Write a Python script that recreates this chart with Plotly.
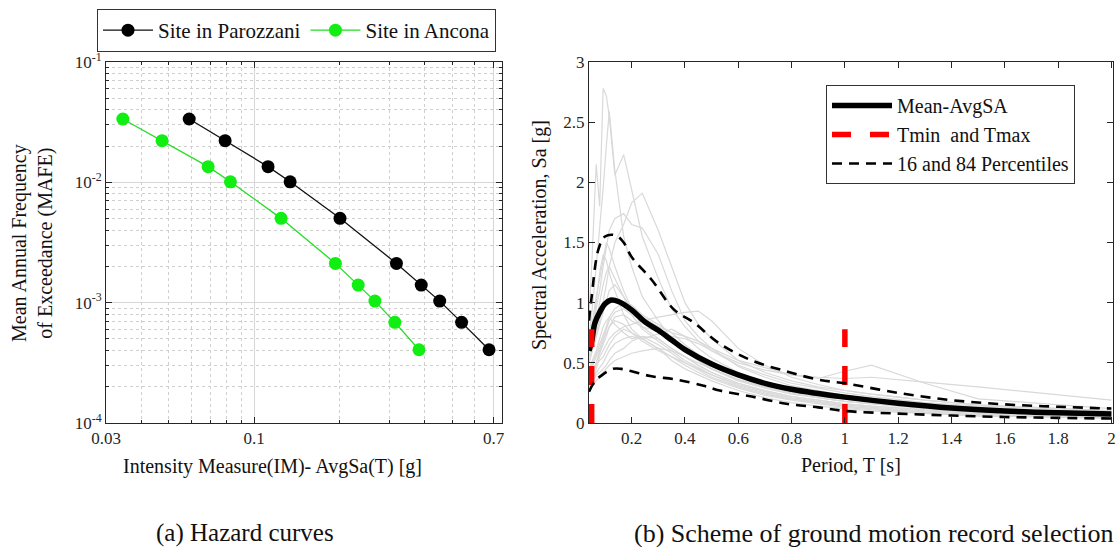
import plotly.graph_objects as go

# ---------------- (a) hazard curves ----------------
im_parozzani = [0.059, 0.079, 0.112, 0.134, 0.201, 0.318, 0.389, 0.452, 0.540, 0.675]
im_ancona = [0.0344, 0.0473, 0.0688, 0.0825, 0.1245, 0.1936, 0.233, 0.267, 0.314, 0.382]
mafe = [0.0336, 0.0222, 0.0135, 0.0101, 0.00502, 0.00212, 0.0014, 0.00103, 0.000686, 0.000406]

# ---------------- (b) spectra ----------------
period_grid = [0.04, 0.05, 0.067, 0.08, 0.093, 0.105, 0.116, 0.137, 0.17, 0.2, 0.24, 0.3, 0.35,
               0.4, 0.45, 0.5, 0.6, 0.7, 0.8, 0.9, 1.0, 1.1, 1.3, 1.5, 2.0]
rec_01 = [0.90, 1.30, 2.15, 1.80, 2.78, 2.72, 2.55, 2.06, 2.23, 1.95, 1.55, 1.20, 0.95, 0.80, 0.68, 0.60, 0.48, 0.40, 0.33, 0.29, 0.25, 0.22, 0.17, 0.14, 0.10]
rec_02 = [0.70, 0.90, 1.30, 1.60, 1.95, 2.30, 2.59, 2.10, 1.55, 1.30, 1.05, 0.85, 0.70, 0.60, 0.52, 0.45, 0.36, 0.30, 0.26, 0.22, 0.20, 0.18, 0.14, 0.11, 0.08]
rec_03 = [0.50, 0.60, 0.75, 0.85, 1.00, 1.15, 1.30, 1.50, 1.65, 1.83, 1.91, 1.60, 1.30, 1.00, 0.82, 0.70, 0.52, 0.42, 0.35, 0.30, 0.27, 0.24, 0.19, 0.15, 0.10]
rec_04 = [0.60, 0.70, 0.95, 1.10, 1.30, 1.45, 1.60, 1.70, 1.74, 1.65, 1.62, 1.40, 1.10, 0.85, 0.72, 0.62, 0.47, 0.38, 0.31, 0.27, 0.23, 0.20, 0.16, 0.13, 0.09]
rec_05 = [0.40, 0.45, 0.55, 0.62, 0.70, 0.78, 0.85, 0.92, 0.95, 0.90, 0.85, 0.80, 0.75, 0.72, 0.68, 0.62, 0.52, 0.46, 0.40, 0.37, 0.43, 0.48, 0.33, 0.20, 0.12]
rec_06 = [0.35, 0.40, 0.50, 0.58, 0.65, 0.72, 0.80, 0.88, 0.90, 0.85, 0.80, 0.76, 0.72, 0.70, 0.66, 0.60, 0.50, 0.44, 0.40, 0.38, 0.37, 0.38, 0.34, 0.30, 0.19]
rec_07 = [0.30, 0.35, 0.45, 0.55, 0.60, 0.65, 0.70, 0.75, 0.80, 0.82, 0.85, 0.88, 0.90, 0.92, 0.93, 0.85, 0.62, 0.48, 0.38, 0.32, 0.27, 0.24, 0.19, 0.15, 0.10]
rec_08 = [0.55, 0.65, 0.85, 1.00, 1.15, 1.25, 1.30, 1.20, 1.05, 0.95, 0.88, 0.80, 0.70, 0.60, 0.52, 0.45, 0.35, 0.29, 0.24, 0.21, 0.18, 0.16, 0.13, 0.10, 0.07]
rec_09 = [0.45, 0.50, 0.60, 0.70, 0.80, 0.85, 0.88, 0.82, 0.75, 0.70, 0.72, 0.70, 0.62, 0.55, 0.48, 0.42, 0.33, 0.27, 0.22, 0.19, 0.16, 0.14, 0.11, 0.09, 0.06]
rec_10 = [0.35, 0.40, 0.48, 0.52, 0.55, 0.60, 0.65, 0.72, 0.78, 0.75, 0.68, 0.60, 0.55, 0.50, 0.45, 0.40, 0.32, 0.26, 0.21, 0.18, 0.15, 0.13, 0.10, 0.08, 0.05]
rec_11 = [0.65, 0.80, 1.05, 1.20, 1.35, 1.50, 1.45, 1.30, 1.10, 0.95, 0.80, 0.70, 0.62, 0.55, 0.48, 0.42, 0.33, 0.27, 0.22, 0.19, 0.16, 0.14, 0.11, 0.09, 0.06]
rec_12 = [0.30, 0.33, 0.40, 0.42, 0.45, 0.48, 0.52, 0.58, 0.62, 0.68, 0.72, 0.65, 0.58, 0.50, 0.44, 0.38, 0.30, 0.24, 0.20, 0.17, 0.14, 0.12, 0.09, 0.07, 0.05]
rec_13 = [0.50, 0.58, 0.70, 0.80, 0.90, 1.00, 1.10, 1.15, 1.05, 0.90, 0.78, 0.68, 0.60, 0.52, 0.46, 0.40, 0.31, 0.25, 0.20, 0.17, 0.14, 0.12, 0.09, 0.07, 0.05]
rec_14 = [0.28, 0.30, 0.35, 0.38, 0.42, 0.45, 0.48, 0.52, 0.55, 0.58, 0.60, 0.62, 0.60, 0.55, 0.50, 0.45, 0.36, 0.30, 0.25, 0.21, 0.18, 0.16, 0.12, 0.10, 0.07]
rec_15 = [0.60, 0.75, 1.00, 1.25, 1.40, 1.35, 1.25, 1.10, 0.90, 0.78, 0.70, 0.62, 0.55, 0.48, 0.42, 0.37, 0.29, 0.23, 0.19, 0.16, 0.13, 0.11, 0.08, 0.06, 0.04]
rec_16 = [0.42, 0.48, 0.58, 0.65, 0.72, 0.80, 0.88, 0.95, 1.00, 0.98, 0.90, 0.82, 0.75, 0.65, 0.57, 0.50, 0.40, 0.33, 0.28, 0.24, 0.21, 0.18, 0.14, 0.11, 0.08]
rec_17 = [0.38, 0.42, 0.50, 0.60, 0.68, 0.75, 0.80, 0.85, 0.82, 0.75, 0.70, 0.74, 0.78, 0.72, 0.62, 0.54, 0.42, 0.34, 0.28, 0.24, 0.20, 0.18, 0.14, 0.11, 0.07]
rec_18 = [0.33, 0.36, 0.42, 0.46, 0.50, 0.55, 0.60, 0.66, 0.70, 0.72, 0.70, 0.62, 0.52, 0.45, 0.40, 0.35, 0.27, 0.21, 0.17, 0.14, 0.12, 0.10, 0.08, 0.06, 0.04]
records = [rec_01, rec_02, rec_03, rec_04, rec_05, rec_06, rec_07, rec_08, rec_09,
           rec_10, rec_11, rec_12, rec_13, rec_14, rec_15, rec_16, rec_17, rec_18]

mean_T = [0.04, 0.05, 0.062, 0.08, 0.1, 0.12, 0.15, 0.2, 0.25, 0.3, 0.35, 0.4, 0.5, 0.6, 0.7,
          0.8, 0.9, 1.0, 1.2, 1.4, 1.6, 1.8, 2.0]
mean_sa = [0.60, 0.68, 0.83, 0.92, 0.99, 1.02, 1.01, 0.94, 0.84, 0.77, 0.69, 0.61, 0.49, 0.40, 0.33,
           0.28, 0.245, 0.215, 0.165, 0.125, 0.10, 0.085, 0.075]
p84_T = [0.04, 0.05, 0.075, 0.1, 0.14, 0.17, 0.2, 0.275, 0.36, 0.43, 0.53, 0.65, 0.78, 0.9, 1.0,
         1.2, 1.4, 1.6, 1.8, 2.0]
p84_sa = [0.85, 1.05, 1.44, 1.55, 1.56, 1.50, 1.38, 1.19, 0.94, 0.84, 0.66, 0.52, 0.43, 0.36, 0.33,
          0.25, 0.19, 0.155, 0.135, 0.12]
p16_T = [0.04, 0.06, 0.09, 0.13, 0.16, 0.2, 0.27, 0.37, 0.47, 0.53, 0.65, 0.78, 0.9, 1.0, 1.2,
         1.4, 1.6, 1.8, 2.0]
p16_sa = [0.26, 0.34, 0.40, 0.45, 0.45, 0.43, 0.39, 0.36, 0.31, 0.27, 0.22, 0.16, 0.13, 0.10, 0.078,
          0.062, 0.05, 0.043, 0.037]
t_min, t_max = 0.05, 1.0
t_bar_sa = [0.0, 0.78]

FONT = "Liberation Serif"
AX = "#262626"
W, H = 1116, 547


def px_x(p):
    return p / W


def px_y(p):
    return 1 - p / H


fig = go.Figure()

# left chart traces
fig.add_trace(go.Scatter(x=im_parozzani, y=mafe, mode="lines+markers", name="Site in Parozzani",
                         line=dict(color="#111111", width=1.3),
                         marker=dict(color="#000000", size=13),
                         xaxis="x", yaxis="y", legend="legend"))
fig.add_trace(go.Scatter(x=im_ancona, y=mafe, mode="lines+markers", name="Site in Ancona",
                         line=dict(color="#22dd22", width=1.3),
                         marker=dict(color="#11ee11", size=13),
                         xaxis="x", yaxis="y", legend="legend"))

# right chart traces
for r in records:
    fig.add_trace(go.Scatter(x=period_grid, y=r, mode="lines", showlegend=False,
                             line=dict(color="#d9d9d9", width=1.2), hoverinfo="skip",
                             xaxis="x2", yaxis="y2"))
fig.add_trace(go.Scatter(x=mean_T, y=mean_sa, mode="lines", name="Mean-AvgSA",
                         line=dict(color="#000000", width=5.5, shape="spline"),
                         xaxis="x2", yaxis="y2", legend="legend2"))
fig.add_trace(go.Scatter(x=[t_min, t_min], y=t_bar_sa, mode="lines", name="Tmin\u00a0 and Tmax",
                         line=dict(color="#ff0000", width=5.5, dash="19px,19px"),
                         legendgroup="t", xaxis="x2", yaxis="y2", legend="legend2"))
fig.add_trace(go.Scatter(x=[t_max, t_max], y=t_bar_sa, mode="lines", showlegend=False,
                         line=dict(color="#ff0000", width=5.5, dash="19px,19px"),
                         legendgroup="t", xaxis="x2", yaxis="y2"))
fig.add_trace(go.Scatter(x=p84_T, y=p84_sa, mode="lines", name="16 and 84 Percentiles",
                         line=dict(color="#000000", width=2.6, dash="10px,7px", shape="spline"),
                         legendgroup="p", xaxis="x2", yaxis="y2", legend="legend2"))
fig.add_trace(go.Scatter(x=p16_T, y=p16_sa, mode="lines", showlegend=False,
                         line=dict(color="#000000", width=2.6, dash="10px,7px", shape="spline"),
                         legendgroup="p", xaxis="x2", yaxis="y2"))

tickfont = dict(family=FONT, size=17, color=AX)

fig.update_layout(
    width=W, height=H,
    margin=dict(l=0, r=0, t=0, b=0, autoexpand=False),
    paper_bgcolor="white", plot_bgcolor="white",
    font=dict(family=FONT, color=AX),
    xaxis=dict(type="log", domain=[px_x(106), px_x(502)], automargin=False,
               range=[-1.5229, -0.1249],
               tickmode="array", tickvals=[0.03, 0.1, 0.7], ticktext=["0.03", "0.1", "0.7"],
               ticks="inside", ticklen=6, tickcolor=AX, tickfont=tickfont,
               showline=True, linecolor=AX, linewidth=1, mirror="ticks",
               showgrid=True, gridcolor="#d6d6d6", gridwidth=1,
               minor=dict(tickmode="array",
                          tickvals=[0.04, 0.05, 0.06, 0.07, 0.08, 0.09, 0.2, 0.3, 0.4, 0.5, 0.6],
                          ticks="inside", ticklen=3, tickcolor=AX,
                          showgrid=True, gridcolor="#cfcfcf", griddash="dot", gridwidth=1),
               zeroline=False, anchor="y"),
    yaxis=dict(type="log", domain=[1 - 423 / H, 1 - 62 / H], automargin=False,
               range=[-4, -1],
               tickmode="array", tickvals=[1e-4, 1e-3, 1e-2, 1e-1],
               ticktext=["10<sup>-4</sup>", "10<sup>-3</sup>", "10<sup>-2</sup>", "10<sup>-1</sup>"],
               ticks="inside", ticklen=6, tickcolor=AX, tickfont=tickfont,
               showline=True, linecolor=AX, linewidth=1, mirror="ticks",
               showgrid=True, gridcolor="#d6d6d6", gridwidth=1,
               minor=dict(tickmode="array",
                          tickvals=[k * 10 ** e for e in (-4, -3, -2) for k in range(2, 10)],
                          ticks="inside", ticklen=3, tickcolor=AX,
                          showgrid=True, gridcolor="#cfcfcf", griddash="dot", gridwidth=1),
               zeroline=False, anchor="x"),
    xaxis2=dict(domain=[px_x(589), px_x(1113)], range=[0.04, 2.006], automargin=False,
                tickmode="array", tickvals=[0.2, 0.4, 0.6, 0.8, 1.0, 1.2, 1.4, 1.6, 1.8, 2.0],
                ticktext=["0.2", "0.4", "0.6", "0.8", "1", "1.2", "1.4", "1.6", "1.8", "2"],
                ticks="inside", ticklen=6, tickcolor=AX, tickfont=tickfont,
                showline=True, linecolor=AX, linewidth=1, mirror="ticks",
                showgrid=False, zeroline=False, anchor="y2"),
    yaxis2=dict(domain=[1 - 423 / H, 1 - 62 / H], range=[0, 3], automargin=False,
                tickmode="array", tickvals=[0, 0.5, 1, 1.5, 2, 2.5, 3],
                ticktext=["0", "0.5", "1", "1.5", "2", "2.5", "3"],
                ticks="inside", ticklen=6, tickcolor=AX, tickfont=tickfont,
                showline=True, linecolor=AX, linewidth=1, mirror="ticks",
                showgrid=False, zeroline=False, anchor="x2"),
    legend=dict(orientation="h", x=px_x(97), y=px_y(9), xanchor="left", yanchor="top",
                traceorder="normal",
                bordercolor="#333333", borderwidth=1, bgcolor="white",
                font=dict(family=FONT, size=21, color="#111111"),
                itemwidth=50, tracegroupgap=0),
    legend2=dict(orientation="v", x=px_x(826), y=px_y(85), xanchor="left", yanchor="top",
                 traceorder="normal",
                 bordercolor="#333333", borderwidth=1, bgcolor="white",
                 font=dict(family=FONT, size=20, color="#111111"),
                 itemwidth=60, tracegroupgap=0),
    showlegend=True,
)

annos = [
    dict(text="Mean Annual Frequency<br>of Exceedance (MAFE)", x=px_x(32), y=px_y(243),
         textangle=-90, font=dict(size=20)),
    dict(text="Intensity Measure(IM)- AvgSa(T) [g]", x=px_x(272), y=px_y(466), font=dict(size=20)),
    dict(text="Spectral Acceleration, Sa [g]", x=px_x(540), y=px_y(235), textangle=-90,
         font=dict(size=20)),
    dict(text="Period, T [s]", x=px_x(851), y=px_y(465), font=dict(size=20)),
    dict(text="(a) Hazard curves", x=px_x(245), y=px_y(533), font=dict(size=25)),
    dict(text="(b) Scheme of ground motion record selection", x=px_x(632), y=px_y(533),
         xanchor="left", font=dict(size=26)),
]
for a in annos:
    a.setdefault("xanchor", "center")
    fig.add_annotation(xref="paper", yref="paper", showarrow=False, yanchor="middle",
                       **{k: v for k, v in a.items() if k != "font"},
                       font=dict(family=FONT, color="#111111", size=a["font"]["size"]))

fig.write_html("out.html")
